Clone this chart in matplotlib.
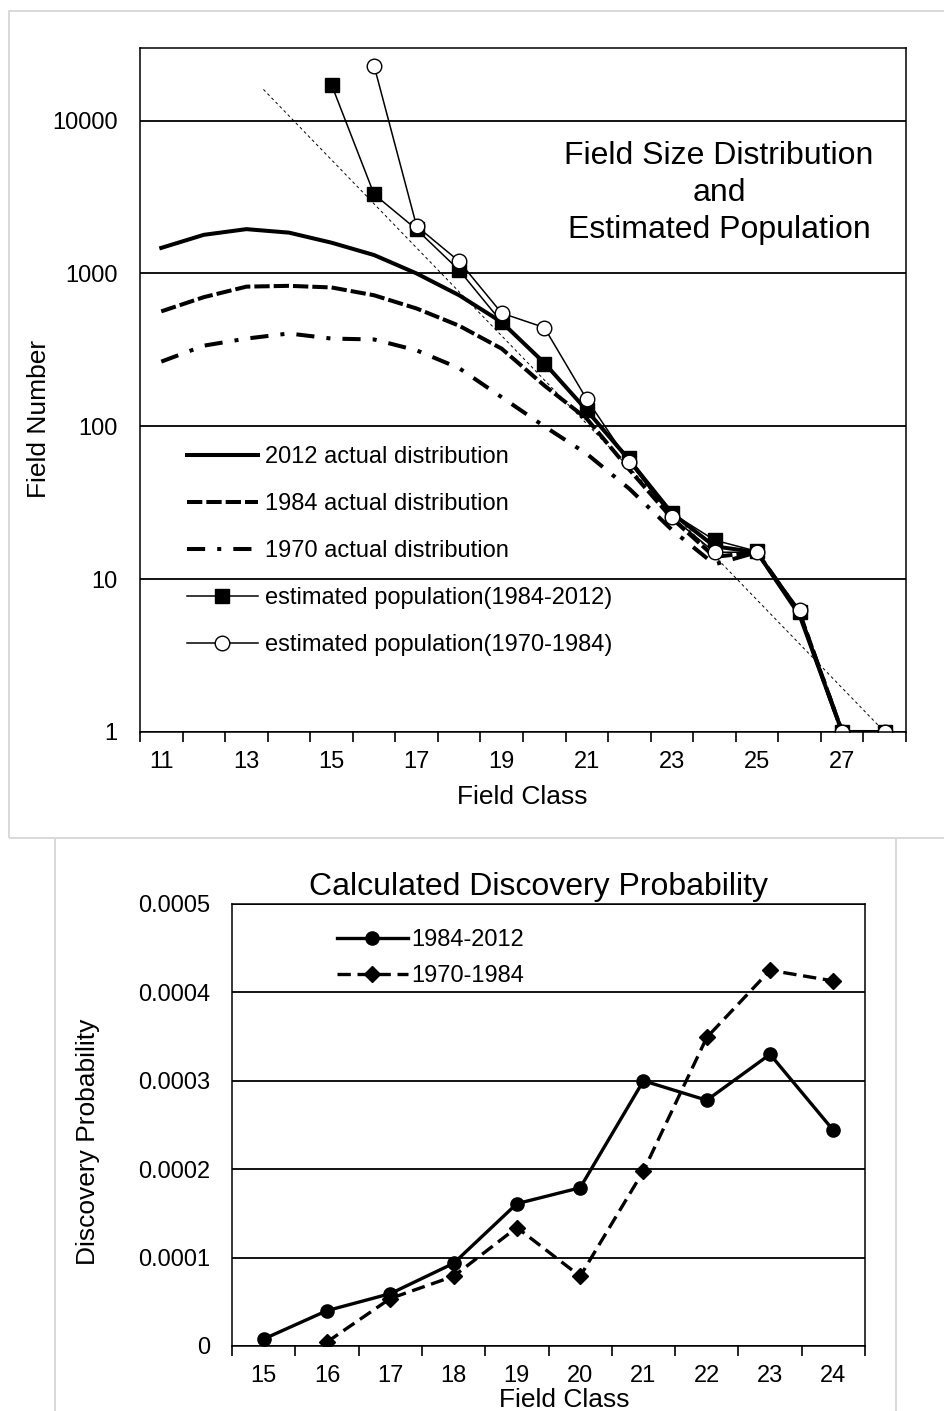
import matplotlib
matplotlib.use("Agg")
import matplotlib.pyplot as plt
from matplotlib.patches import Rectangle
from matplotlib.ticker import NullLocator, FixedLocator, NullFormatter, FixedFormatter
import numpy as np

plt.rcParams['font.family'] = ['Liberation Sans', 'DejaVu Sans']

W, H = 945, 1411

######################  DATA : field size distribution  ######################
classes = list(range(11, 29))
dist_2012 = [1470, 1790, 1950, 1850, 1590, 1320, 1000, 720, 480, 260, 127, 60, 27, 16.4, 15, 5.8, 1, 1]
dist_1984 = [565, 700, 820, 830, 810, 720, 590, 455, 322, 185, 112, 52, 25, 14, 15, 6, 1, 1]
dist_1970 = [265, 337, 375, 405, 375, 370, 314, 240, 155, 100, 66, 39, 21, 12.5, 15, 6, 1, 1]

pop_classes_a = list(range(15, 29))
pop_1984_2012 = [17200, 3300, 1940, 1050, 480, 255, 127, 62, 27, 18, 15.2, 6.1, 1, 1]
pop_classes_b = list(range(16, 29))
pop_1970_1984 = [22900, 2040, 1200, 550, 443, 150, 58, 25.5, 15, 15, 6.3, 1, 1]

trend_x = [13.4, 28.0]
trend_y = [16000, 1.0]

y1_ticks = [1, 10, 100, 1000, 10000]
x1_labels = [11, 13, 15, 17, 19, 21, 23, 25, 27]

######################  DATA : discovery probability  ######################
prob_classes_a = list(range(15, 25))
prob_1984_2012 = [0.0000079, 0.00004, 0.0000592, 0.0000935, 0.000161, 0.000179, 0.0003, 0.000278, 0.00033, 0.000244]
prob_classes_b = list(range(16, 25))
prob_1970_1984 = [0.0000045, 0.0000537, 0.0000789, 0.000134, 0.0000789, 0.000198, 0.000349, 0.000425, 0.000413]

y2_ticks = [0, 0.0001, 0.0002, 0.0003, 0.0004, 0.0005]
y2_labels = ['0', '0.0001', '0.0002', '0.0003', '0.0004', '0.0005']


def fx(px):
    return px / W

def fy(py):
    return (H - py) / H


fig = plt.figure(figsize=(W / 100, H / 100), dpi=100)

# light grey frames around the two charts
fig.patches.append(Rectangle((fx(9), fy(838)), fx(980) - fx(9), fy(11) - fy(838),
                             transform=fig.transFigure, fill=False, ec='#d9d9d9', lw=1.4))
fig.patches.append(Rectangle((fx(55), fy(1430)), fx(896) - fx(55), fy(838) - fy(1430),
                             transform=fig.transFigure, fill=False, ec='#d9d9d9', lw=1.4))

######################  TOP CHART  ######################
ax1 = fig.add_axes([fx(140), fy(732), fx(906) - fx(140), fy(47.7) - fy(732)])
ax1.plot(classes, dist_2012, color='black', lw=2.9, solid_joinstyle='round',
         label='2012 actual distribution')
ax1.plot(classes, dist_1984, color='black', lw=2.9, ls=(0, (3.8, 1.0)),
         label='1984 actual distribution')
ax1.plot(classes, dist_1970, color='black', lw=2.9, ls=(0, (4.5, 3, 1, 3)),
         label='1970 actual distribution')
ax1.plot(trend_x, trend_y, color='black', lw=0.7, ls=(0, (3, 3)))
ax1.plot(pop_classes_a, pop_1984_2012, color='black', lw=1.1, marker='s', ms=9.5,
         mfc='black', mec='black', label='estimated population(1984-2012)')
ax1.plot(pop_classes_b, pop_1970_1984, color='black', lw=1.1, marker='o', ms=10.5,
         mfc='white', mec='black', mew=1.0, label='estimated population(1970-1984)')

ax1.set_yscale('log')
ax1.set_ylim(1, 30000)
ax1.set_xlim(10.5, 28.5)
ax1.yaxis.set_major_locator(FixedLocator(y1_ticks))
ax1.yaxis.set_major_formatter(FixedFormatter([str(t) for t in y1_ticks]))
ax1.yaxis.set_minor_locator(NullLocator())
ax1.yaxis.grid(True, color='black', lw=1.3)
ax1.set_axisbelow(True)
ax1.xaxis.set_major_locator(FixedLocator(np.arange(10.5, 28.6, 1)))
ax1.xaxis.set_major_formatter(NullFormatter())
ax1.xaxis.set_minor_locator(FixedLocator(x1_labels))
ax1.xaxis.set_minor_formatter(FixedFormatter([str(c) for c in x1_labels]))
ax1.tick_params(axis='x', which='major', length=7, width=1.2, direction='out')
ax1.tick_params(axis='x', which='minor', length=0, pad=13.5, labelsize=17)
ax1.tick_params(axis='y', length=0, pad=16, labelsize=17)
for s in ax1.spines.values():
    s.set_linewidth(1.1)

ax1.set_xlabel('Field Class', fontsize=19, va='center')
ax1.xaxis.set_label_coords(0.4994, (fy(797) - fy(732)) / (fy(47.7) - fy(732)))
ax1.set_ylabel('Field Number', fontsize=19, va='center')
ax1.yaxis.set_label_coords((39 - 140) / 766, (fy(418.5) - fy(732)) / (fy(47.7) - fy(732)))

ax1.text(0.7559, 0.7877, 'Field Size Distribution\nand\nEstimated Population',
         transform=ax1.transAxes, ha='center', va='center', fontsize=23, linespacing=1.32)

ax1.legend(loc='upper left', bbox_to_anchor=((187 - 140) / 766, (fy(446) - fy(732)) / (fy(47.7) - fy(732))),
           frameon=False, fontsize=17, borderpad=0, borderaxespad=0, handlelength=3.0,
           handletextpad=0.3, labelspacing=1.06)

######################  BOTTOM CHART  ######################
ax2 = fig.add_axes([fx(232), fy(1346), fx(865) - fx(232), fy(904) - fy(1346)])
ax2.plot(prob_classes_a, prob_1984_2012, color='black', lw=2.4, marker='o', ms=9.5,
         label='1984-2012')
ax2.plot(prob_classes_b, prob_1970_1984, color='black', lw=2.4, ls=(0, (4, 2)), marker='D', ms=8.5,
         label='1970-1984')

ax2.set_xlim(14.5, 24.5)
ax2.set_ylim(0, 0.0005)
ax2.yaxis.set_major_locator(FixedLocator(y2_ticks))
ax2.yaxis.set_major_formatter(FixedFormatter(y2_labels))
ax2.yaxis.grid(True, color='black', lw=1.3)
ax2.set_axisbelow(True)
ax2.xaxis.set_major_locator(FixedLocator(np.arange(14.5, 24.6, 1)))
ax2.xaxis.set_major_formatter(NullFormatter())
ax2.xaxis.set_minor_locator(FixedLocator(prob_classes_a))
ax2.xaxis.set_minor_formatter(FixedFormatter([str(c) for c in prob_classes_a]))
ax2.tick_params(axis='x', which='major', length=7, width=1.2, direction='out')
ax2.tick_params(axis='x', which='minor', length=0, pad=14, labelsize=17)
ax2.tick_params(axis='y', length=0, pad=16, labelsize=17)
for s in ax2.spines.values():
    s.set_linewidth(1.1)

ax2.set_xlabel('Field Class', fontsize=19, va='center')
ax2.xaxis.set_label_coords((564 - 232) / 633, (fy(1400) - fy(1346)) / (fy(904) - fy(1346)))
ax2.set_ylabel('Discovery Probability', fontsize=19, va='center')
ax2.yaxis.set_label_coords((88 - 232) / 633, (fy(1142) - fy(1346)) / (fy(904) - fy(1346)))

ax2.text((539 - 232) / 633, (fy(887) - fy(1346)) / (fy(904) - fy(1346)), 'Calculated Discovery Probability',
         transform=ax2.transAxes, ha='center', va='center', fontsize=23)

ax2.legend(loc='upper left', bbox_to_anchor=((337 - 232) / 633, (fy(929) - fy(1346)) / (fy(904) - fy(1346))),
           frameon=False, fontsize=17, borderpad=0, borderaxespad=0, handlelength=3.0,
           handletextpad=0.15, labelspacing=0.6)

fig.savefig('out.png', dpi=100)
